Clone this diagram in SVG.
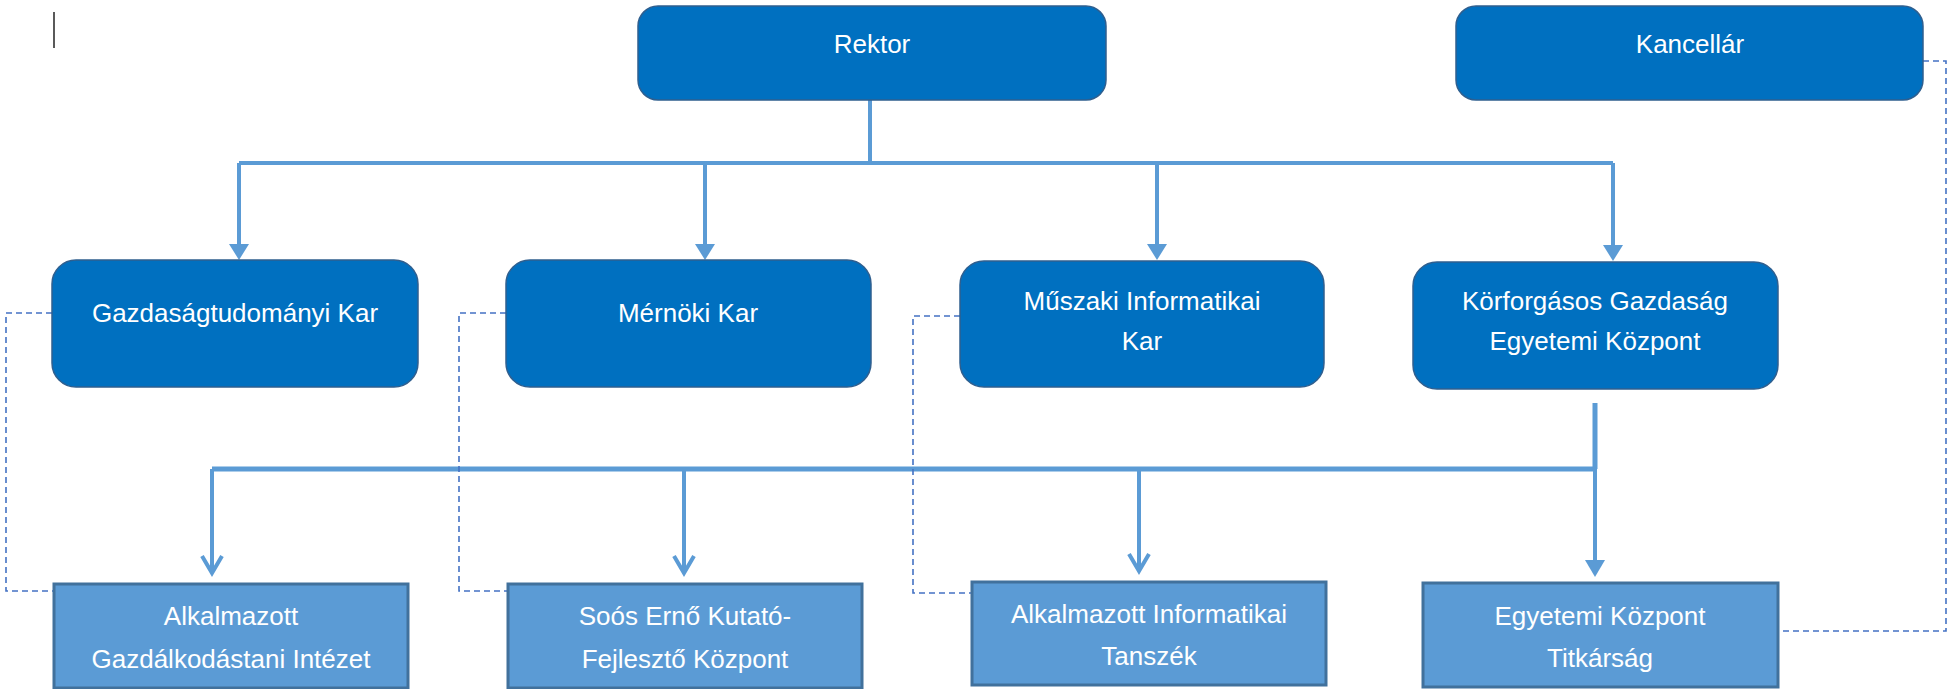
<svg xmlns="http://www.w3.org/2000/svg" width="1948" height="689" viewBox="0 0 1948 689">
<style>
.top{fill:#0070C0;stroke:#2F5F8F;stroke-width:1.5}
.bot{fill:#5B9BD5;stroke:#41719C;stroke-width:3}
.t{font-family:"Liberation Sans",Arial,sans-serif;font-size:26px;fill:#fff;text-anchor:middle}
.ln{fill:none;stroke:#5B9BD5;stroke-width:4}
.dash{fill:none;stroke:#4472C4;stroke-width:1.6;stroke-dasharray:6 4}
.tri{fill:#5B9BD5}
.v{fill:none;stroke:#5B9BD5;stroke-width:4;stroke-linejoin:miter}
</style>
<rect width="1948" height="689" fill="#fff"/>
<line x1="54" y1="12" x2="54" y2="48" stroke="#000" stroke-width="1.3"/>
<g id="connectors">
<path class="ln" d="M870 100 V163 M239 163 H1613 M239 163 V248 M705 163 V248 M1157 163 V248 M1613 163 V248"/>
<polygon class="tri" points="229,244 249,244 239,260"/>
<polygon class="tri" points="695,244 715,244 705,260"/>
<polygon class="tri" points="1147,244 1167,244 1157,260"/>
<polygon class="tri" points="1603,245 1623,245 1613,261"/>
<path class="ln" style="stroke-width:5" d="M1595 403 V469 M212 469 H1595"/>
<path class="ln" d="M212 469 V572 M684 469 V572 M1139 469 V570 M1595 469 V565"/>
<path class="v" d="M202 556 L212 573 L222 556"/>
<path class="v" d="M674 556 L684 573 L694 556"/>
<path class="v" d="M1129 554 L1139 571 L1149 554"/>
<polygon class="tri" points="1585,560 1605,560 1595,577"/>
<path class="dash" d="M52 313 H6 V591 H54"/>
<path class="dash" d="M506 313 H459 V591 H508"/>
<path class="dash" d="M960 316 H913 V593 H972"/>
<path class="dash" d="M1923 61 H1946 V631 H1778"/>
</g>
<g id="rektor"><rect class="top" x="638" y="6" width="468" height="94" rx="20"/><text class="t" x="872" y="53">Rektor</text></g>
<g id="kancellar"><rect class="top" x="1456" y="6" width="467" height="94" rx="20"/><text class="t" x="1690" y="53">Kancellár</text></g>
<g id="gazdasagtudomanyi"><rect class="top" x="52" y="260" width="366" height="127" rx="24"/><text class="t" x="235" y="322">Gazdaságtudományi Kar</text></g>
<g id="mernoki"><rect class="top" x="506" y="260" width="365" height="127" rx="24"/><text class="t" x="688" y="322">Mérnöki Kar</text></g>
<g id="muszaki"><rect class="top" x="960" y="261" width="364" height="126" rx="24"/><text class="t" x="1142" y="310">Műszaki Informatikai</text><text class="t" x="1142" y="350">Kar</text></g>
<g id="korforgasos"><rect class="top" x="1413" y="262" width="365" height="127" rx="24"/><text class="t" x="1595" y="310">Körforgásos Gazdaság</text><text class="t" x="1595" y="350">Egyetemi Központ</text></g>
<g id="agi"><rect class="bot" x="54" y="584" width="354" height="104"/><text class="t" x="231" y="625">Alkalmazott</text><text class="t" x="231" y="668">Gazdálkodástani Intézet</text></g>
<g id="soos"><rect class="bot" x="508" y="584" width="354" height="104"/><text class="t" x="685" y="625">Soós Ernő Kutató-</text><text class="t" x="685" y="668">Fejlesztő Központ</text></g>
<g id="ait"><rect class="bot" x="972" y="582" width="354" height="103"/><text class="t" x="1149" y="623">Alkalmazott Informatikai</text><text class="t" x="1149" y="665">Tanszék</text></g>
<g id="titkarsag"><rect class="bot" x="1423" y="583" width="355" height="104"/><text class="t" x="1600" y="625">Egyetemi Központ</text><text class="t" x="1600" y="667">Titkárság</text></g>
</svg>
